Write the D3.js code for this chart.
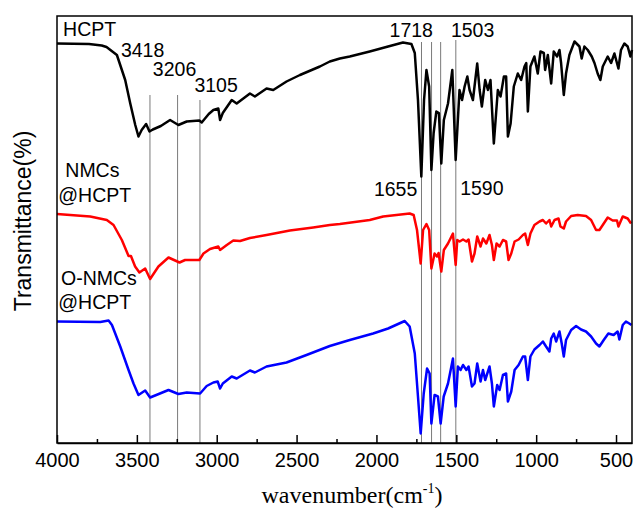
<!DOCTYPE html>
<html>
<head>
<meta charset="utf-8">
<script src="https://cdn.jsdelivr.net/npm/d3@7"></script>
<style>
  body { margin: 0; background: #fff; }
  text { font-family: "Liberation Sans", Arial, sans-serif; }
</style>
</head>
<body>
<div id="viz-container"></div>
<script>
var margin = {top: 16, right: 2, bottom: 65, left: 57},
    width = 634 - margin.left - margin.right,
    height = 508 - margin.top - margin.bottom;

// wavenumbers (cm-1), one array per spectrum
var hcptWn = [4000,3800,3720,3690,3625,3573,3542,3510,3490,3470,3442,3421,3400,3350,3292,3240,3188,3109,3094,3050,3021,2990,2979,2962,2906,2875,2792,2761,2688,2646,2563,2479,2354,2292,2229,2167,2042,1927,1834,1781,1760,1740,1719,1702,1687,1670,1656,1642,1625,1609,1594,1578,1552,1525,1504,1480,1464,1448,1431,1417,1396,1369,1354,1340,1319,1302,1286,1265,1240,1223,1202,1188,1177,1160,1140,1115,1094,1073,1062,1052,1036,1011,990,973,952,944,927,906,890,869,854,844,827,813,792,760,729,715,698,677,652,635,615,598,583,552,531,510,485,469,448,427,410,400];
var hcptT  = [79.9,79.8,79.5,79.2,77.6,72.6,68.0,63.6,61.3,62.6,63.8,62.3,62.7,63.4,64.6,63.6,64.3,64.5,64.1,65.8,66.6,66.9,64.6,66.0,68.6,67.9,69.9,69.3,70.9,70.6,72.3,73.6,75.3,76.3,76.9,77.3,78.3,79.3,80.1,79.8,78.0,68.6,53.3,68.6,74.6,71.3,54.6,62.0,66.3,66.0,55.9,64.6,67.9,74.6,56.6,70.6,68.6,71.3,73.3,70.6,68.6,75.9,70.6,67.3,72.6,70.6,72.6,59.9,70.6,69.3,73.3,73.3,61.3,63.9,71.3,73.9,72.6,75.3,76.0,66.3,75.3,77.3,73.9,78.3,78.0,74.6,77.6,71.9,78.3,77.3,78.6,76.0,69.6,73.9,77.6,80.3,79.3,76.9,79.3,78.6,77.3,76.0,73.9,72.6,75.3,77.3,76.0,77.9,74.9,78.6,79.9,79.3,77.3,78.6];

var nmcWn = [4000,3792,3688,3646,3594,3552,3537,3511,3484,3448,3417,3365,3302,3233,3198,3109,3083,3042,2990,2979,2937,2896,2854,2792,2688,2542,2396,2292,2229,2042,1958,1792,1767,1746,1723,1708,1687,1670,1656,1636,1621,1611,1594,1578,1552,1521,1504,
             1494,1479,1458,1437,1423,1402,1386,1369,1348,1333,1312,1292,1277,1265,1248,1229,1208,1188,1173,1156,1135,1110,1083,1069,1052,1036,1011,979,958,938,917,906,885,860,848,827,813,781,740,688,656,625,604,583,552,521,494,485,458,427,406];
var nmcT  = [45.8,45.3,44.6,43.6,40.6,37.4,37.4,35.3,34.1,34.9,32.8,35.3,37.1,36.1,36.6,36.6,37.9,38.8,39.3,38.6,39.6,40.5,40.4,41.0,41.6,42.5,43.1,43.6,43.8,44.6,45.3,45.9,45.6,42.6,35.9,42.6,43.8,42.6,34.9,37.9,37.3,38.0,34.3,38.6,39.9,41.9,35.6,
             40.6,40.3,40.7,40.3,40.7,36.3,37.9,41.3,39.3,40.9,39.9,41.6,39.6,36.6,39.9,39.3,40.6,40.3,36.6,37.9,40.3,40.7,41.6,41.9,39.6,41.9,43.6,44.3,44.6,43.9,44.6,43.3,44.6,44.9,43.3,42.9,44.3,45.4,45.6,45.4,44.6,42.6,42.6,43.6,45.1,44.5,44.5,43.3,45.3,44.9,43.9];

var onmcWn = [4000,3729,3677,3656,3604,3552,3521,3490,3448,3417,3386,3302,3240,3188,3104,3063,3021,2994,2979,2962,2906,2875,2792,2761,2688,2563,2438,2292,2167,2021,1927,1823,1792,1760,1740,1723,1704,1683,1667,1656,1636,1615,1598,1579,1552,1521,1504,
              1490,1473,1458,1437,1423,1402,1386,1369,1348,1333,1319,1292,1277,1265,1244,1229,1208,1188,1177,1156,1135,1110,1083,1069,1052,1036,1011,979,958,938,917,906,890,875,854,840,827,813,781,750,719,688,656,625,604,577,548,515,490,479,458,438,417,403];
var onmcT  = [24.3,24.2,24.5,23.6,19.3,14.6,11.9,9.6,10.5,9.1,9.5,10.6,9.8,10.1,9.9,11.4,12.1,12.3,10.9,11.9,13.3,12.9,14.5,14.1,15.3,16.1,17.6,19.4,20.6,21.9,22.9,24.4,23.3,17.9,9.3,1.9,9.9,14.9,13.9,3.9,9.6,9.3,3.9,9.3,11.9,16.9,7.3,
              15.3,14.6,15.6,14.6,15.3,11.3,11.9,15.9,12.3,14.6,12.6,15.3,11.9,7.3,11.6,10.6,13.6,13.9,8.3,10.3,14.6,15.6,17.3,17.3,12.6,17.3,18.7,19.6,20.3,19.3,18.3,20.9,21.9,20.3,22.3,19.9,17.3,20.6,22.6,23.4,22.7,22.3,21.3,19.9,19.3,20.6,21.9,21.6,22.3,20.7,23.6,24.3,23.9,23.6];

var seriesNames  = ["HCPT", "NMCs@HCPT", "O-NMCs@HCPT"];
var seriesColors = ["#000000", "#ff0000", "#0000ff"];

// marker lines and their labels
var markerWn   = [3418, 3245, 3105, 1718, 1655, 1598, 1503];
var markerTop  = [69.6, 69.6, 68.6, 80.2, 80.2, 80.2, 80.6];
var peakLabels = ["3418", "3206", "3105", "1718", "1503", "1655", "1590"];
var peakLabelWn = [3464, 3264, 3004, 1782, 1398, 1880, 1340];
var peakLabelT  = [77.2, 73.4, 70.2, 81.2, 81.2, 49.5, 49.6];

// sample names, one row per line of text
var nameLines   = ["HCPT", "NMCs", "@HCPT", "O-NMCs", "@HCPT"];
var nameLinesWn = [3962, 3948, 3992, 3975, 3992];
var nameLinesT  = [81.4, 53.3, 48.3, 31.6, 26.8];

var majorTicks = [4000, 3500, 3000, 2500, 2000, 1500, 1000, 500];
var minorTicks = [3750, 3250, 2750, 2250, 1750, 1250, 750];

var svg = d3.select("#viz-container")
            .append("svg")
            .attr("width", 634)
            .attr("height", 508);

var g = svg.append("g")
           .attr("transform", "translate(" + margin.left + "," + margin.top + ")");

var x = d3.scaleLinear().domain([4000, 400]).range([0, width]);
var y = d3.scaleLinear().domain([0, 85.4]).range([height, 0]);

var spectra = [
  {name: seriesNames[0], wn: hcptWn, t: hcptT},
  {name: seriesNames[1], wn: nmcWn, t: nmcT},
  {name: seriesNames[2], wn: onmcWn, t: onmcT}
];

// thin gray marker lines
g.selectAll(".marker")
 .data(markerWn)
 .enter().append("line")
 .attr("class", "marker")
 .attr("x1", function(d) { return x(d); })
 .attr("x2", function(d) { return x(d); })
 .attr("y1", function(d, i) { return y(markerTop[i]); })
 .attr("y2", height)
 .attr("stroke", "#7a7a7a")
 .attr("stroke-width", 1);

var line = d3.line()
             .x(function(d) { return x(d[0]); })
             .y(function(d) { return y(d[1]); });

g.selectAll(".spectrum")
 .data(spectra)
 .enter().append("path")
 .attr("class", "spectrum")
 .attr("fill", "none")
 .attr("stroke", function(d, i) { return seriesColors[i]; })
 .attr("stroke-width", 2.5)
 .attr("stroke-linejoin", "round")
 .attr("d", function(d) { return line(d3.zip(d.wn, d.t)); });

// frame
g.append("rect")
 .attr("width", width)
 .attr("height", height)
 .attr("fill", "none")
 .attr("stroke", "#000")
 .attr("stroke-width", 1.5);

// bottom axis, ticks pointing in
var xAxis = d3.axisBottom(x)
              .tickValues(majorTicks)
              .tickSizeInner(-8)
              .tickSizeOuter(0)
              .tickPadding(10)
              .tickFormat(d3.format("d"));

var axisG = g.append("g")
             .attr("transform", "translate(0," + height + ")")
             .call(xAxis);
axisG.select(".domain").attr("stroke-width", 1.5);
axisG.selectAll(".tick line").attr("stroke-width", 1.5);
axisG.selectAll("text")
     .attr("font-size", 20)
     .attr("font-family", "Liberation Sans, Arial, sans-serif")
     .attr("fill", "#000");

var minorG = g.append("g")
              .attr("transform", "translate(0," + height + ")")
              .call(d3.axisBottom(x).tickValues(minorTicks).tickSizeInner(-4).tickSizeOuter(0).tickFormat(""));
minorG.select(".domain").remove();
minorG.selectAll(".tick line").attr("stroke-width", 1.5);

// peak labels
g.selectAll(".peak")
 .data(peakLabels)
 .enter().append("text")
 .attr("class", "peak")
 .attr("x", function(d, i) { return x(peakLabelWn[i]); })
 .attr("y", function(d, i) { return y(peakLabelT[i]); })
 .attr("text-anchor", "middle")
 .attr("font-size", 19.5)
 .text(function(d) { return d; });

// sample names
g.selectAll(".name")
 .data(nameLines)
 .enter().append("text")
 .attr("class", "name")
 .attr("x", function(d, i) { return x(nameLinesWn[i]); })
 .attr("y", function(d, i) { return y(nameLinesT[i]); })
 .attr("font-size", 19.5)
 .text(function(d) { return d; });

// axis titles
svg.append("text")
   .attr("transform", "translate(31,221) rotate(-90)")
   .attr("text-anchor", "middle")
   .attr("font-size", 23)
   .text("Transmittance(%)");

var xt = svg.append("text")
            .attr("x", 352)
            .attr("y", 503)
            .attr("text-anchor", "middle")
            .attr("font-size", 24)
            .style("font-family", "Liberation Serif, 'Times New Roman', serif");
xt.append("tspan").text("wavenumber(cm");
xt.append("tspan").attr("dy", -10).attr("font-size", 14).text("-1");
xt.append("tspan").attr("dy", 10).text(")");
</script>
</body>
</html>
